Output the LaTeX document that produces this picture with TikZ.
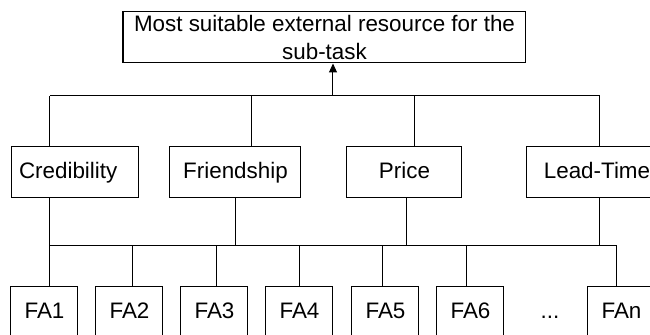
\documentclass[tikz,border=0pt]{standalone}
\usepackage{fontspec}
\setmainfont{Liberation Sans}
\usetikzlibrary{arrows.meta}

\begin{document}
\begin{tikzpicture}[x=0.5pt, y=-0.5pt]
    \tikzset{>={Triangle[width=4pt,length=4.5pt]}}
    \tikzset{box/.style={draw, line width=0.5pt, minimum height=25.5pt, inner sep=0pt,
        text height=8.2pt, text depth=2.4pt, font=\fontsize{11.2}{14}\selectfont}}
    \tikzset{wire/.style={line width=0.5pt}}

    % Frame of the page
    \useasboundingbox (0, 0) rectangle (650, 335);
    \clip (0, 0) rectangle (650, 335);

    % The goal
    \node[draw, line width=0.5pt, minimum width=201.5pt, minimum height=25.5pt, inner sep=0pt,
        align=center, font=\fontsize{11.2}{14}\selectfont] (goal) at (324.5, 37.5)
        {Most suitable external resource for the\\sub-task};

    % The criteria
    \node[box, minimum width=63.5pt, text width=56.5pt, inner xsep=3.5pt, align=left] (cred) at (75.5, 172.5) {Credibility};
    \node[box, minimum width=65.5pt] (friend) at (235.5, 172.5) {Friendship};
    \node[box, minimum width=57.5pt] (price) at (404.5, 172.5) {Price};
    \node[box, minimum width=70pt] (lead) at (597, 172.5) {Lead-Time};

    % The alternatives
    \node[box, minimum width=33.5pt] (fa1) at (44.5, 312.5) {FA1};
    \node[box, minimum width=33.5pt] (fa2) at (129.5, 312.5) {FA2};
    \node[box, minimum width=33.5pt] (fa3) at (214.5, 312.5) {FA3};
    \node[box, minimum width=33.5pt] (fa4) at (299.5, 312.5) {FA4};
    \node[box, minimum width=33.5pt] (fa5) at (385.5, 312.5) {FA5};
    \node[box, minimum width=33.5pt] (fa6) at (470.5, 312.5) {FA6};
    \node[box, draw=none, minimum width=20pt] (dots) at (550, 312.5) {...};
    \node[box, minimum width=33.5pt] (fan) at (621.5, 312.5) {FAn};

    % Upper bus
    \coordinate (up1) at (50, 96);
    \coordinate (up2) at (252, 96);
    \coordinate (up3) at (415, 96);
    \coordinate (up4) at (600, 96);
    \coordinate (upmid) at (333, 96);
    \draw[wire] (up1) -- (up4);
    \draw[wire, ->] (upmid) -- (goal.south -| upmid);
    \draw[wire] (cred.north -| up1) -- (up1);
    \draw[wire] (friend.north -| up2) -- (up2);
    \draw[wire] (price.north -| up3) -- (up3);
    \draw[wire] (lead.north -| up4) -- (up4);

    % Lower bus
    \coordinate (lo1) at (50, 246);
    \coordinate (lo2) at (236, 246);
    \coordinate (lo3) at (407, 246);
    \coordinate (lo4) at (600, 246);
    \coordinate (lofa2) at (133, 246);
    \coordinate (lofa3) at (217, 246);
    \coordinate (lofa4) at (300, 246);
    \coordinate (lofa5) at (383, 246);
    \coordinate (lofa6) at (467, 246);
    \coordinate (lofan) at (617, 246);
    \draw[wire] (lo1) -- (lofan);
    \draw[wire] (cred.south -| lo1) -- (lo1);
    \draw[wire] (friend.south -| lo2) -- (lo2);
    \draw[wire] (price.south -| lo3) -- (lo3);
    \draw[wire] (lead.south -| lo4) -- (lo4);

    \draw[wire] (fa1.north -| lo1) -- (lo1);
    \draw[wire] (fa2.north -| lofa2) -- (lofa2);
    \draw[wire] (fa3.north -| lofa3) -- (lofa3);
    \draw[wire] (fa4.north -| lofa4) -- (lofa4);
    \draw[wire] (fa5.north -| lofa5) -- (lofa5);
    \draw[wire] (fa6.north -| lofa6) -- (lofa6);
    \draw[wire] (fan.north -| lofan) -- (lofan);
\end{tikzpicture}
\end{document}
